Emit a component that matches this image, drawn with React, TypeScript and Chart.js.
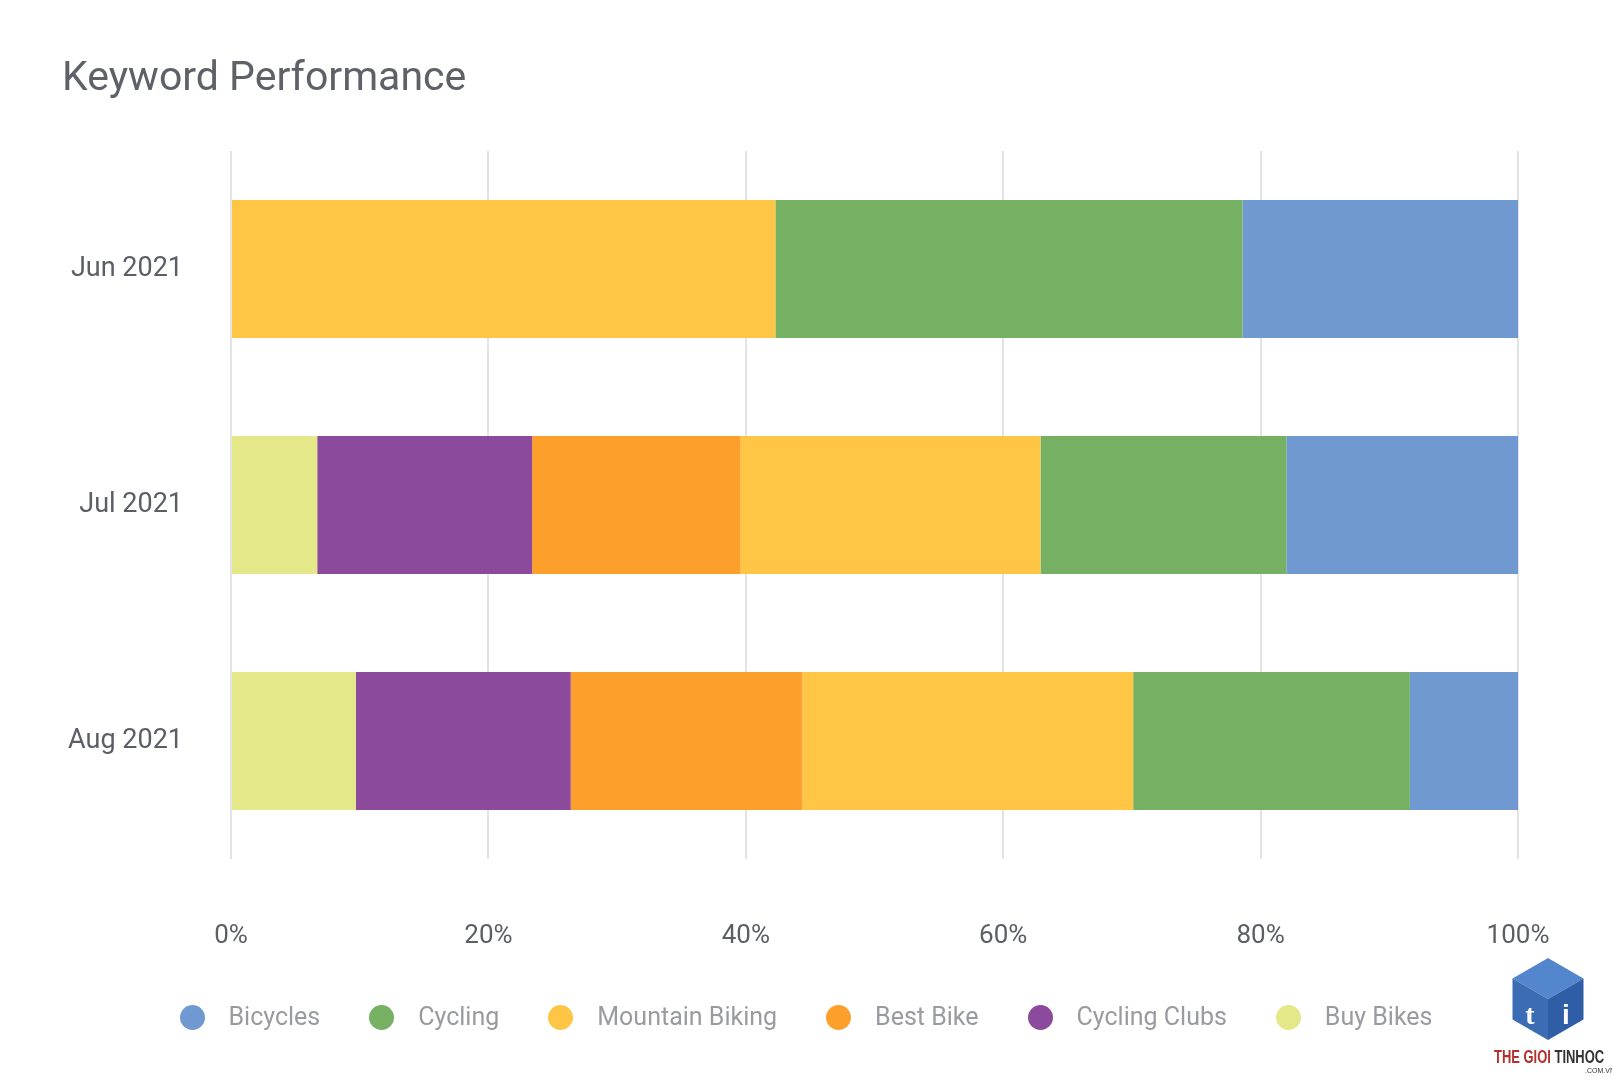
import React, { useEffect, useRef } from "react";
import { Chart, registerables } from "chart.js";

Chart.register(...registerables);

// Months shown on the category axis
const months = ["Jun 2021", "Jul 2021", "Aug 2021"];

// Share of each keyword per month, in percent
const bicycles = [21.4, 18.0, 8.4];
const cycling = [36.3, 19.1, 21.5];
const mountainBiking = [42.3, 23.3, 25.7];
const bestBike = [0, 16.2, 18.0];
const cyclingClubs = [0, 16.7, 16.7];
const buyBikes = [0, 6.7, 9.7];

// Value axis ticks
const percentTicks = [0, 20, 40, 60, 80, 100];

// Keyword names and colours, listed in legend order
const keywordNames = ["Bicycles", "Cycling", "Mountain Biking", "Best Bike", "Cycling Clubs", "Buy Bikes"];
const keywordColors = ["#7099d1", "#76b063", "#fec644", "#fda02b", "#8c4a9d", "#e4e889"];
const keywordValues = [bicycles, cycling, mountainBiking, bestBike, cyclingClubs, buyBikes];

const FONT = "Roboto, 'Open Sans', sans-serif";

export default function App() {
  const canvasRef = useRef<HTMLCanvasElement | null>(null);

  useEffect(() => {
    document.body.style.margin = "0";
    document.body.style.background = "#ffffff";
    const canvas = canvasRef.current;
    if (!canvas) return;

    // Stack from the left: last legend entry first
    const datasets = keywordNames
      .map((name, i) => ({
        label: name,
        data: keywordValues[i],
        backgroundColor: keywordColors[i],
        borderWidth: 0,
        barPercentage: 1,
        categoryPercentage: 0.585,
      }))
      .reverse();

    const chart = new Chart(canvas, {
      type: "bar",
      data: { labels: months, datasets },
      options: {
        indexAxis: "y",
        responsive: false,
        animation: false,
        devicePixelRatio: 1,
        layout: { padding: { top: 151, right: 94, bottom: 121, left: 0 } },
        plugins: {
          legend: { display: false },
          title: { display: false },
          tooltip: { enabled: false },
        },
        scales: {
          x: {
            type: "linear",
            stacked: true,
            min: percentTicks[0],
            max: percentTicks[percentTicks.length - 1],
            afterBuildTicks: (scale: any) => {
              scale.ticks = percentTicks.map((v) => ({ value: v }));
            },
            afterFit: (scale: any) => {
              scale.height = 100;
            },
            border: { display: false },
            grid: { color: "#e3e3e3", lineWidth: 2, drawTicks: false },
            ticks: {
              padding: 62,
              color: "#5c5e66",
              font: { family: FONT, size: 26 },
              callback: (v: any) => `${v}%`,
            },
          },
          y: {
            stacked: true,
            afterFit: (scale: any) => {
              scale.width = 231;
            },
            border: { display: false },
            grid: { display: false, drawTicks: false },
            ticks: {
              padding: 48,
              color: "#5c5e66",
              font: { family: FONT, size: 27 },
            },
          },
        },
      },
    });

    return () => chart.destroy();
  }, []);

  return (
    <div
      style={{
        position: "relative",
        width: 1612,
        height: 1080,
        background: "#ffffff",
        fontFamily: FONT,
        overflow: "hidden",
      }}
    >
      <canvas
        ref={canvasRef}
        width={1612}
        height={1080}
        style={{ position: "absolute", left: 0, top: 0, width: 1612, height: 1080 }}
      />
      <div
        style={{
          position: "absolute",
          left: 62,
          top: 56,
          fontSize: 41,
          lineHeight: "41px",
          color: "#5f6169",
          whiteSpace: "nowrap",
        }}
      >
        Keyword Performance
      </div>
      <div
        style={{
          position: "absolute",
          left: 0,
          top: 1002,
          width: 1612,
          height: 30,
          display: "flex",
          justifyContent: "center",
          alignItems: "center",
          gap: 49,
        }}
      >
        {keywordNames.map((name, i) => (
          <div key={name} style={{ display: "flex", alignItems: "center" }}>
            <span
              style={{
                display: "inline-block",
                width: 25,
                height: 25,
                borderRadius: "50%",
                background: keywordColors[i],
                marginRight: 24,
              }}
            />
            <span style={{ fontSize: 25, lineHeight: "30px", color: "#9a9ba1", whiteSpace: "nowrap" }}>{name}</span>
          </div>
        ))}
      </div>
      <svg
        width={80}
        height={86}
        viewBox="0 0 80 86"
        style={{ position: "absolute", left: 1508, top: 956 }}
      >
        <polygon points="40,2 75.5,22.5 40,43 4.5,22.5" fill="#5386cc" />
        <polygon points="4.5,22.5 40,43 40,84 4.5,63.5" fill="#3c6cb4" />
        <polygon points="40,43 75.5,22.5 75.5,63.5 40,84" fill="#2f5ea6" />
        <text x="22" y="68" fill="#ffffff" fontSize="28" fontWeight="bold" fontFamily="Liberation Serif, serif" textAnchor="middle">
          t
        </text>
        <text x="58" y="68" fill="#ffffff" fontSize="28" fontWeight="bold" fontFamily="Liberation Sans, sans-serif" textAnchor="middle">
          i
        </text>
      </svg>
      <div
        style={{
          position: "absolute",
          left: 1494,
          top: 1047,
          fontSize: 18,
          lineHeight: "20px",
          fontWeight: "bold",
          fontFamily: "'Liberation Sans', sans-serif",
          whiteSpace: "nowrap",
          transform: "scaleX(0.72)",
          transformOrigin: "left top",
        }}
      >
        <span style={{ color: "#b3302e" }}>THE GIOI </span>
        <span style={{ color: "#333333" }}>TINHOC</span>
      </div>
      <div
        style={{
          position: "absolute",
          left: 1585,
          top: 1067,
          fontSize: 7,
          lineHeight: "8px",
          color: "#333333",
          fontFamily: "'Liberation Sans', sans-serif",
        }}
      >
        .COM.VN
      </div>
    </div>
  );
}
